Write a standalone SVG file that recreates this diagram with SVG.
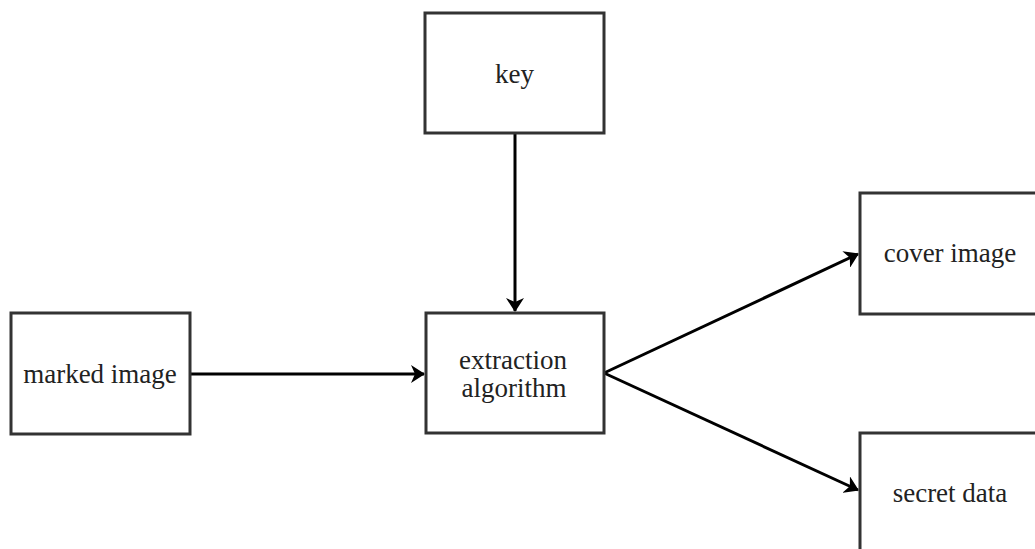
<svg xmlns="http://www.w3.org/2000/svg" width="1035" height="549" viewBox="0 0 1035 549">
<style>
.box{fill:#ffffff;stroke:#333333;stroke-width:3}
.lbl{font-family:'Liberation Serif','Times New Roman','DejaVu Serif',serif;font-size:27px;fill:#222222;text-anchor:middle}
.edge{fill:none;stroke:#000000;stroke-width:3}
</style>
<defs>
<marker id="arr" viewBox="0 0 14 18" refX="13" refY="9" markerWidth="14" markerHeight="18" markerUnits="userSpaceOnUse" orient="auto">
<path d="M0,0 L14,9 L0,18 L4,9 Z" fill="#000000"/>
</marker>
</defs>
<rect width="1035" height="549" fill="#ffffff"/>
<g id="connectors">
<line class="edge" x1="515" y1="133" x2="515" y2="311" marker-end="url(#arr)"/>
<line class="edge" x1="190" y1="374" x2="424" y2="374" marker-end="url(#arr)"/>
<line class="edge" x1="604" y1="373" x2="858" y2="254" marker-end="url(#arr)"/>
<line class="edge" x1="604" y1="373" x2="858" y2="490" marker-end="url(#arr)"/>
</g>
<g id="node-key">
<rect class="box" x="425" y="13" width="179" height="120"/>
<text class="lbl" font-family="Liberation Serif, serif" x="514.5" y="83">key</text>
</g>
<g id="node-marked">
<rect class="box" x="11" y="313" width="179" height="121"/>
<text class="lbl" font-family="Liberation Serif, serif" x="100" y="383">marked image</text>
</g>
<g id="node-extraction">
<rect class="box" x="426" y="313" width="178" height="120"/>
<text class="lbl" font-family="Liberation Serif, serif" x="513" y="369">extraction</text>
<text class="lbl" font-family="Liberation Serif, serif" x="514" y="397">algorithm</text>
</g>
<g id="node-cover">
<rect class="box" x="860" y="193" width="190" height="121"/>
<text class="lbl" font-family="Liberation Serif, serif" x="950" y="262">cover image</text>
</g>
<g id="node-secret">
<rect class="box" x="860" y="433" width="190" height="130"/>
<text class="lbl" font-family="Liberation Serif, serif" x="950" y="502">secret data</text>
</g>
</svg>
